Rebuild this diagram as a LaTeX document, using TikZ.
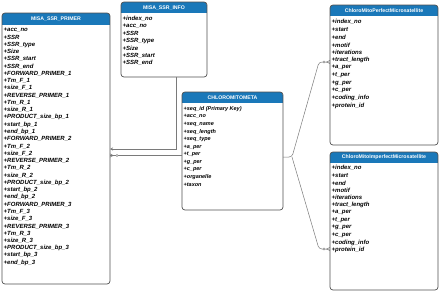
\documentclass[tikz,border=0pt]{standalone}
\usepackage{fontspec}
\setmainfont{Liberation Sans}
\usetikzlibrary{arrows.meta,calc}
\definecolor{hdrblue}{HTML}{1A78B9}
\definecolor{edgegray}{HTML}{505050}
\definecolor{conngray}{HTML}{7A7A7A}
\tikzset{
 tbl/.style={draw=none, rectangle, inner sep=0pt, outer sep=0pt, anchor=north west},
 tblframe/.style={draw=edgegray, line width=0.7pt, rounded corners=3pt},
 hdr/.style={fill=hdrblue},
 ttl/.style={text=white, font=\fontsize{5.2}{6}\selectfont\bfseries, inner sep=0pt},
 rowtxt/.style={anchor=west, inner sep=0pt, font=\fontsize{6}{7}\selectfont\bfseries\itshape},
 rowsmall/.style={anchor=west, inner sep=0pt, font=\fontsize{5.5}{6.5}\selectfont\bfseries\itshape},
 conn/.style={draw=conngray, line width=0.5pt},
 connmark/.style={draw=conngray, line width=0.4pt, fill=white},
}
% name, x1, y1, x2, y2, header height, title
\newcommand\umlbox[7]{%
 \node[tbl, minimum width={(#4-#2)*1pt}, minimum height={(#5-#3)*1pt}] (#1) at (#2,#3) {};
 \begin{scope}
  \clip[rounded corners=3pt] (#1.north west) rectangle (#1.south east);
  \fill[hdr] (#1.north west) rectangle ($(#1.north east)+(0,#6)$);
 \end{scope}
 \draw[tblframe] (#1.north west) rectangle (#1.south east);
 \node[ttl] (#1-title) at ($(#1.north)+(0,#6/2)$) {#7};
}
% name, x, y0, dy, style, list
\newcommand\umlrows[6]{%
 \foreach \t [count=\i] in {#6} \node[#5] (#1-\i) at (#2, {#3+(\i-1)*#4}) {+\t};
}
\begin{document}
\begin{tikzpicture}[x={(1pt,0)}, y={(0,-1pt)}]
\fill[white] (0,0) rectangle (440,293);
\useasboundingbox (0,0) rectangle (440,293);

% MISA_SSR_PRIMER
\umlbox{primer}{2}{13}{110}{284}{12}{MISA\_SSR\_PRIMER}
\umlrows{primer}{3.5}{30}{7.27}{rowtxt}{acc\_no,SSR,SSR\_type,Size,SSR\_start,SSR\_end,FORWARD\_PRIMER\_1,Tm\_F\_1,size\_F\_1,REVERSE\_PRIMER\_1,Tm\_R\_1,size\_R\_1,PRODUCT\_size\_bp\_1,start\_bp\_1,end\_bp\_1,FORWARD\_PRIMER\_2,Tm\_F\_2,size\_F\_2,REVERSE\_PRIMER\_2,Tm\_R\_2,size\_R\_2,PRODUCT\_size\_bp\_2,start\_bp\_2,end\_bp\_2,FORWARD\_PRIMER\_3,Tm\_F\_3,size\_F\_3,REVERSE\_PRIMER\_3,Tm\_R\_3,size\_R\_3,PRODUCT\_size\_bp\_3,start\_bp\_3,end\_bp\_3}

% MISA_SSR_INFO
\umlbox{info}{121}{2}{207}{77}{11}{MISA\_SSR\_INFO}
\umlrows{info}{122.5}{18.7}{7.38}{rowtxt}{index\_no,acc\_no,SSR,SSR\_type,Size,SSR\_start,SSR\_end}

% CHLOROMITOMETA
\umlbox{meta}{182}{92}{283}{210}{11}{CHLOROMITOMETA}
\umlrows{meta}{183.5}{109}{7.6}{rowsmall}{seq\_id (Primary Key),acc\_no,seq\_name,seq\_length,seq\_type,a\_per,t\_per,g\_per,c\_per,organelle,taxon}

% ChloroMitoPerfectMicrosatellite
\umlbox{perfect}{330}{5}{438}{145}{11}{ChloroMitoPerfectMicrosatellite}
\umlrows{perfect}{331.5}{22}{7.64}{rowtxt}{index\_no,start,end,motif,iterations,tract\_length,a\_per,t\_per,g\_per,c\_per,coding\_info,protein\_id}

% ChloroMitoImperfectMicrosatellite
\umlbox{imperfect}{330}{152}{438}{290}{11}{ChloroMitoImperfectMicrosatellite}
\umlrows{imperfect}{331.5}{168}{7.45}{rowtxt}{index\_no,start,end,motif,iterations,tract\_length,a\_per,t\_per,g\_per,c\_per,coding\_info,protein\_id}

% connectors
\coordinate (bendA) at (176,149);
\draw[conn, -{Stealth[length=3pt,width=3pt]}] (info.south -| bendA) -- (bendA) -- (primer.east |- bendA);

\coordinate (lineB) at (150,155.5);
\draw[conn] (meta.west |- lineB) -- (primer.east |- lineB);
\coordinate (markB) at (117,155.5);
\draw[connmark] (markB) circle (1.2);
\draw[conn] (primer.east |- lineB) ++(0,-1.6) -- ++(3.5,1.6) -- ++(-3.5,1.6);

\coordinate (fork) at (292,157);
\coordinate (upC) at (319,62);
\coordinate (dnC) at (319,249);
\draw[conn, rounded corners=3pt] (meta.east |- fork) -- (fork) -- (upC) -- (perfect.west |- upC);
\draw[conn, rounded corners=3pt] (fork) -- (dnC) -- (imperfect.west |- dnC);
\coordinate (markC1) at (324,62);
\coordinate (markC2) at (324,249);
\draw[connmark] (markC1) circle (1.2);
\draw[connmark] (markC2) circle (1.2);
\draw[conn] (perfect.west |- upC) ++(0,-1.6) -- ++(-3.5,1.6) -- ++(3.5,1.6);
\draw[conn] (imperfect.west |- dnC) ++(0,-1.6) -- ++(-3.5,1.6) -- ++(3.5,1.6);
\end{tikzpicture}
\end{document}
